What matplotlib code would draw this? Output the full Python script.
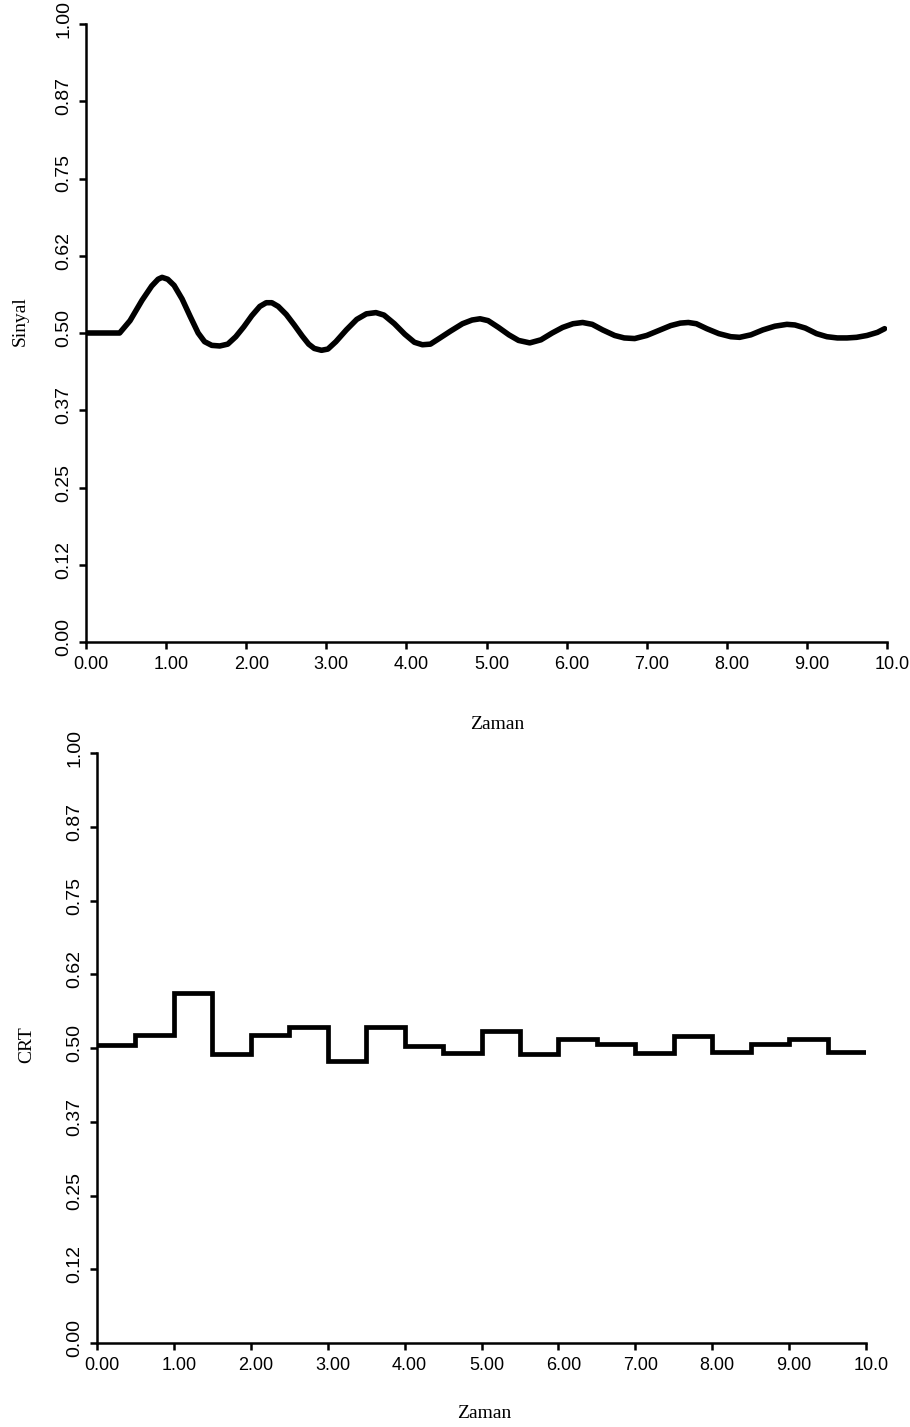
import numpy as np
import matplotlib
matplotlib.use("Agg")
import matplotlib.pyplot as plt
import matplotlib.transforms as mtransforms
from matplotlib import font_manager

# --- data ---
sig_t = [0.00, 0.42, 0.55, 0.70, 0.82, 0.90, 0.95, 1.02, 1.10, 1.20, 1.30, 1.40,
         1.48, 1.57, 1.67, 1.77, 1.87, 1.97, 2.07, 2.17, 2.25, 2.32, 2.40, 2.50,
         2.60, 2.70, 2.78, 2.85, 2.94, 3.02, 3.12, 3.25, 3.38, 3.50, 3.62, 3.72,
         3.85, 3.98, 4.10, 4.20, 4.30, 4.42, 4.55, 4.70, 4.82, 4.92, 5.02, 5.15,
         5.28, 5.40, 5.54, 5.68, 5.82, 5.95, 6.08, 6.20, 6.32, 6.45, 6.60, 6.72,
         6.85, 7.00, 7.15, 7.30, 7.42, 7.52, 7.62, 7.75, 7.90, 8.05, 8.16, 8.30,
         8.45, 8.60, 8.75, 8.85, 8.98, 9.12, 9.25, 9.38, 9.50, 9.62, 9.75, 9.88,
         9.97]
sig_v = [0.500, 0.500, 0.520, 0.553, 0.576, 0.587, 0.590, 0.587, 0.577, 0.555, 0.527, 0.500,
         0.486, 0.480, 0.479, 0.482, 0.494, 0.510, 0.528, 0.543, 0.549, 0.549, 0.543, 0.530,
         0.513, 0.495, 0.482, 0.475, 0.472, 0.474, 0.486, 0.505, 0.522, 0.531, 0.533, 0.529,
         0.515, 0.498, 0.485, 0.481, 0.482, 0.492, 0.503, 0.515, 0.521, 0.523, 0.520, 0.509,
         0.497, 0.488, 0.484, 0.489, 0.500, 0.509, 0.515, 0.517, 0.514, 0.505, 0.496, 0.492,
         0.491, 0.496, 0.504, 0.512, 0.516, 0.517, 0.515, 0.507, 0.499, 0.494, 0.493, 0.497,
         0.505, 0.511, 0.514, 0.513, 0.508, 0.499, 0.494, 0.492, 0.492, 0.493, 0.496, 0.501,
         0.507]

crt_edges = [0.0, 0.5, 1.0, 1.5, 2.0, 2.5, 3.0, 3.5, 4.0, 4.5, 5.0, 5.5, 6.0, 6.5,
             7.0, 7.5, 8.0, 8.5, 9.0, 9.5, 10.0]
crt_v = [0.505, 0.522, 0.593, 0.490, 0.522, 0.535, 0.478, 0.535, 0.503, 0.492,
         0.529, 0.489, 0.516, 0.507, 0.492, 0.520, 0.494, 0.507, 0.516, 0.494]

y_ticks = [0.0, 0.125, 0.25, 0.375, 0.5, 0.625, 0.75, 0.875, 1.0]
y_labels = ["0.00", "0.12", "0.25", "0.37", "0.50", "0.62", "0.75", "0.87", "1.00"]
x_ticks = [0, 1, 2, 3, 4, 5, 6, 7, 8, 9, 10]
x_labels = ["0.00", "1.00", "2.00", "3.00", "4.00", "5.00", "6.00", "7.00", "8.00", "9.00", "10.0"]


def pick(names):
    for n in names:
        try:
            font_manager.findfont(n, fallback_to_default=False)
            return n
        except Exception:
            pass
    return "DejaVu Sans"


sans = pick(["Liberation Sans", "DejaVu Sans"])
serif = pick(["Liberation Serif", "DejaVu Serif"])

W, H = 910, 1427
fig = plt.figure(figsize=(W / 100, H / 100), dpi=100)


def make_axes(x0, x1, y_top, y_bot):
    return fig.add_axes([x0 / W, 1 - y_bot / H, (x1 - x0) / W, (y_bot - y_top) / H])


def style(ax, xsize, ysize):
    for s in ["top", "right"]:
        ax.spines[s].set_visible(False)
    for s in ["left", "bottom"]:
        ax.spines[s].set_linewidth(1.8)
    ax.set_xlim(0, 10)
    ax.set_ylim(0, 1)
    ax.set_xticks(x_ticks)
    ax.set_xticklabels(x_labels, fontfamily=sans, fontsize=xsize)
    ax.set_yticks(y_ticks)
    ax.set_yticklabels(y_labels, fontfamily=sans, fontsize=ysize,
                       rotation=90, va="center")
    ax.tick_params(direction="out", length=5, width=1.8, pad=5)
    # labels in the scan sit a little right / up of their ticks
    dx = mtransforms.ScaledTranslation(5 / 100, 0, fig.dpi_scale_trans)
    dy = mtransforms.ScaledTranslation(0, 5 / 100, fig.dpi_scale_trans)
    for lab in ax.get_xticklabels():
        lab.set_transform(lab.get_transform() + dx)
    for lab in ax.get_yticklabels():
        lab.set_transform(lab.get_transform() + dy)


# top: Sinyal
ax1 = make_axes(86, 887, 24, 642)
ax1.plot(sig_t, sig_v, color="black", lw=4.0, solid_joinstyle="round",
         solid_capstyle="round")
style(ax1, 13, 14)
fig.text(20 / W, 1 - 321 / H, "Sinyal", rotation=90, ha="center", va="center",
         fontfamily=serif, fontsize=14)
fig.text(497 / W, 1 - 725 / H, "Zaman", ha="center", va="center",
         fontfamily=serif, fontsize=14)

# bottom: CRT
ax2 = make_axes(97, 866, 753, 1343)
ax2.stairs(crt_v, crt_edges, baseline=None, color="black", lw=3.4)
style(ax2, 13, 14)
fig.text(27 / W, 1 - 1045 / H, "CRT", rotation=90, ha="center", va="center",
         fontfamily=serif, fontsize=14)
fig.text(484 / W, 1 - 1413 / H, "Zaman", ha="center", va="center",
         fontfamily=serif, fontsize=14)

fig.savefig("out.png", dpi=100)
